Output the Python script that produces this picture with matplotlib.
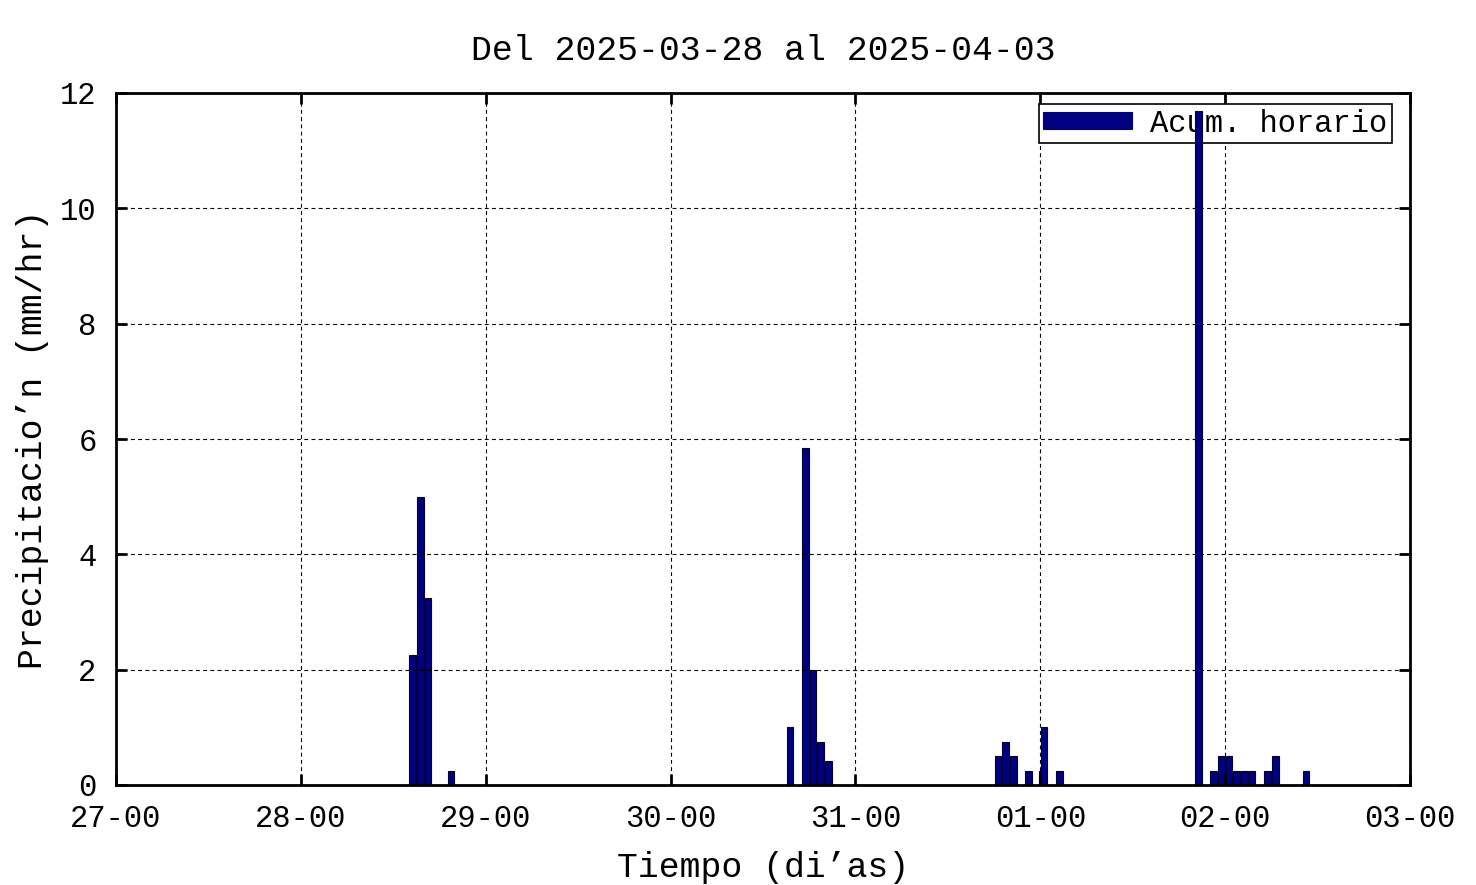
import pandas as pd
import matplotlib
matplotlib.use("Agg")
import matplotlib.pyplot as plt
import matplotlib.dates as mdates

# ── hourly accumulation (start of each hour, mm) ──────────────────
times = [
    "2025-03-28 14:00", "2025-03-28 15:00", "2025-03-28 16:00", "2025-03-28 19:00",
    "2025-03-30 15:00", "2025-03-30 17:00", "2025-03-30 18:00", "2025-03-30 19:00",
    "2025-03-30 20:00",
    "2025-03-31 18:00", "2025-03-31 19:00", "2025-03-31 20:00", "2025-03-31 22:00",
    "2025-03-31 23:43", "2025-04-01 00:00", "2025-04-01 02:00",
    "2025-04-01 20:00", "2025-04-01 22:00", "2025-04-01 23:00", "2025-04-02 00:00",
    "2025-04-02 01:00", "2025-04-02 02:00", "2025-04-02 03:00", "2025-04-02 05:00",
    "2025-04-02 06:00", "2025-04-02 10:00",
]
precip = [
    2.25, 5.0, 3.25, 0.25,
    1.0, 5.84, 2.0, 0.75,
    0.42,
    0.5, 0.75, 0.5, 0.25,
    0.25, 1.0, 0.25,
    11.68, 0.25, 0.5, 0.5,
    0.25, 0.25, 0.25, 0.25,
    0.5, 0.25,
]
x_start = "2025-03-27 00:00"
x_end = "2025-04-03 00:00"
title = "Del 2025-03-28 al 2025-04-03"

t = pd.to_datetime(times) + pd.Timedelta(minutes=30)

plt.rcParams['font.family'] = ['Liberation Mono', 'DejaVu Sans Mono']

fig = plt.figure(figsize=(14.76, 8.85), dpi=100)
ax = fig.add_axes([116/1476, 1-785/885, (1410-116)/1476, (785-93)/885])

bars = ax.bar(t, precip, width=0.87/24, color='#000080', edgecolor='#000033',
              linewidth=0.8, label='Acum. horario', zorder=2)
# tall bars are drawn on top of the key box, as in the original
for p in bars:
    if p.get_height() > 10:
        p.set_zorder(6)

ax.set_xlim(pd.Timestamp(x_start), pd.Timestamp(x_end))
ax.set_ylim(0, 12)
ax.set_yticks(range(0, 13, 2))
ax.xaxis.set_major_locator(mdates.DayLocator())
ax.xaxis.set_major_formatter(mdates.DateFormatter('%d-%H'))

ax.grid(True, color='black', linestyle=(0, (3.5, 3)), linewidth=0.8, zorder=3)
ax.set_axisbelow(False)
for gl in ax.get_xgridlines() + ax.get_ygridlines():
    gl.set_zorder(3)

for s in ax.spines.values():
    s.set_linewidth(2)
    s.set_zorder(7)
ax.tick_params(direction='in', length=8, width=2, top=True, right=True,
               labelsize=22)
ax.tick_params(axis='x', pad=14)
ax.tick_params(axis='y', pad=14)

ax.set_title(title, fontsize=25, pad=24)
ax.set_xlabel("Tiempo (di\u2019as)", fontsize=25, labelpad=12)
ax.set_ylabel("Precipitacio\u2019n (mm/hr)", fontsize=25, labelpad=8)

leg = ax.legend(loc='upper right', bbox_to_anchor=(1 - 18/1294, 1 - 11/692),
                fontsize=22, fancybox=False, edgecolor='black', framealpha=1,
                borderaxespad=0, handlelength=2.9, handleheight=0.5,
                borderpad=0.15, handletextpad=0.6)
leg.set_zorder(5)
leg.get_frame().set_linewidth(1.2)
for h in leg.legend_handles:
    h.set_edgecolor('#000080')

fig.savefig("out.png", dpi=100)
